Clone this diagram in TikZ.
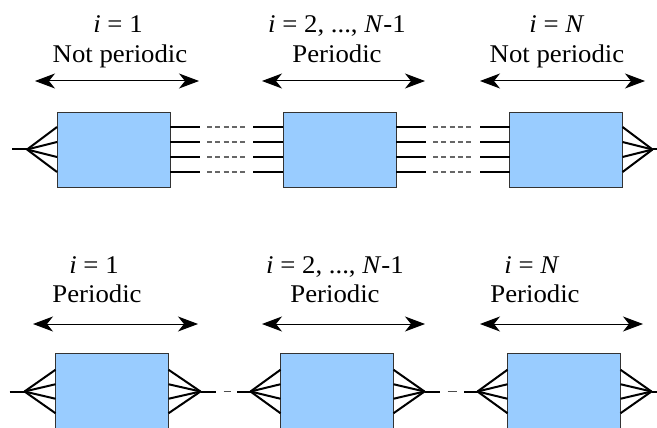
\documentclass[tikz,border=0pt]{standalone}
\usepackage{fontspec}
\usepackage{graphicx}
\setmainfont{Liberation Serif}
\newfontfamily\tnr{Liberation Serif}
\usetikzlibrary{arrows.meta,calc}
\definecolor{blueA}{HTML}{99CCFF}
\newcommand{\wtx}[1]{\scalebox{1.05}[1]{#1}}
\begin{document}
\begin{tikzpicture}[x=1pt,y=-1pt,
  blk/.style={draw=black!80,line width=0.9pt,fill=blueA,minimum width=113pt,minimum height=75pt,inner sep=0pt,outer sep=0pt},
  wire/.style={line width=2pt,black},
  gdash/.style={line width=1.2pt,black!60,dash pattern=on 5pt off 3.25pt},
  dbl/.style={line width=1pt,{Stealth[length=20pt,width=15pt,inset=6pt]}-{Stealth[length=20pt,width=15pt,inset=6pt]}},
  lbl/.style={anchor=base,inner sep=0pt,font=\tnr\fontsize{25.5}{30}\selectfont}
]
\useasboundingbox (0,0) rectangle (657,428);
\clip (0,0) rectangle (657,428);
\fill[white] (0,0) rectangle (657,428);

% ---------- top row labels ----------
\node[lbl] (t1a) at (118,33) {\wtx{\textit{i} = 1}};
\node[lbl] (t1b) at (120,63) {\wtx{Not periodic}};
\node[lbl] (t2a) at (337,33) {\wtx{\textit{i} = 2, ..., \textit{N}-1}};
\node[lbl] (t2b) at (337,63) {\wtx{Periodic}};
\node[lbl] (t3a) at (557,33) {\wtx{\textit{i} = \textit{N}}};
\node[lbl] (t3b) at (557,63) {\wtx{Not periodic}};

\coordinate (ta1l) at (35,81);  \coordinate (ta1r) at (199,81);
\coordinate (ta2l) at (262,81); \coordinate (ta2r) at (425,81);
\coordinate (ta3l) at (480,81); \coordinate (ta3r) at (645,81);
\draw[dbl] (ta1l) -- (ta1r);
\draw[dbl] (ta2l) -- (ta2r);
\draw[dbl] (ta3l) -- (ta3r);

% ---------- top row boxes ----------
\node[blk] (b1) at (113.5,149.5) {};
\node[blk] (b2) at (339.5,149.5) {};
\node[blk] (b3) at (566,149.5) {};

\coordinate (tl) at ($(b1.west)+(-30,0)$);
\coordinate (tlstem) at ($(tl)+(-15,0)$);
\coordinate (tr) at ($(b3.east)+(30,0)$);
\coordinate (trstem) at ($(tr)+(15,0)$);
\draw[wire] (tlstem) -- (tl);
\draw[wire] (tr) -- (trstem);
\foreach \o in {-22.5,-7.5,7.5,22.5}{
  \draw[wire] (tl) -- ($(b1.west)+(0,\o)$);
  \draw[wire] (tr) -- ($(b3.east)+(0,\o)$);
  \draw[wire] ($(b1.east)+(0,\o)$) -- ++(30,0);
  \draw[gdash] ($(b1.east)+(37,\o)$) -- ++(38,0);
  \draw[wire] ($(b2.west)+(0,\o)$) -- ++(-30,0);
  \draw[wire] ($(b2.east)+(0,\o)$) -- ++(30,0);
  \draw[gdash] ($(b2.east)+(37,\o)$) -- ++(38,0);
  \draw[wire] ($(b3.west)+(0,\o)$) -- ++(-30,0);
}

% ---------- bottom row labels ----------
\node[lbl] (u1a) at (94,273) {\wtx{\textit{i} = 1}};
\node[lbl] (u1b) at (97,302) {\wtx{Periodic}};
\node[lbl] (u2a) at (335,273) {\wtx{\textit{i} = 2, ..., \textit{N}-1}};
\node[lbl] (u2b) at (335,302) {\wtx{Periodic}};
\node[lbl] (u3a) at (532,273) {\wtx{\textit{i} = \textit{N}}};
\node[lbl] (u3b) at (535,302) {\wtx{Periodic}};

\coordinate (ua1l) at (33,324);  \coordinate (ua1r) at (198,324);
\coordinate (ua2l) at (262,324); \coordinate (ua2r) at (425,324);
\coordinate (ua3l) at (480,324); \coordinate (ua3r) at (643,324);
\draw[dbl] (ua1l) -- (ua1r);
\draw[dbl] (ua2l) -- (ua2r);
\draw[dbl] (ua3l) -- (ua3r);

% ---------- bottom row boxes ----------
\node[blk,minimum height=77pt] (c1) at (112,391.5) {};
\node[blk,minimum height=77pt] (c2) at (337,391.5) {};
\node[blk,minimum height=77pt] (c3) at (564,391.5) {};

\coordinate (f1l) at ($(c1.west)+(-31,0)$);
\coordinate (f1r) at ($(c1.east)+(32,0)$);
\coordinate (f2l) at ($(c2.west)+(-30,0)$);
\coordinate (f2r) at ($(c2.east)+(31,0)$);
\coordinate (f3l) at ($(c3.west)+(-30,0)$);
\coordinate (f3r) at ($(c3.east)+(31,0)$);

\draw[wire] ($(f1l)+(-15,0)$) -- (f1l);
\draw[wire] (f1r) -- ++(15,0);
\draw[line width=1.2pt,black!70] ($(f1r)+(23,0)$) -- ++(7,0);
\draw[wire] (f2l) -- ++(-14,0);
\draw[wire] (f2r) -- ++(15,0);
\draw[line width=1.2pt,black!70] ($(f2r)+(23,0)$) -- ++(9,0);
\draw[wire] (f3l) -- ++(-14,0);
\draw[wire] (f3r) -- ++(15,0);

\foreach \o in {-21.75,-7.25,7.25,21.75}{
  \draw[wire] (f1l) -- ($(c1.west)+(0,\o)$);
  \draw[wire] (f1r) -- ($(c1.east)+(0,\o)$);
  \draw[wire] (f2l) -- ($(c2.west)+(0,\o)$);
  \draw[wire] (f2r) -- ($(c2.east)+(0,\o)$);
  \draw[wire] (f3l) -- ($(c3.west)+(0,\o)$);
  \draw[wire] (f3r) -- ($(c3.east)+(0,\o)$);
}
\end{tikzpicture}
\end{document}
